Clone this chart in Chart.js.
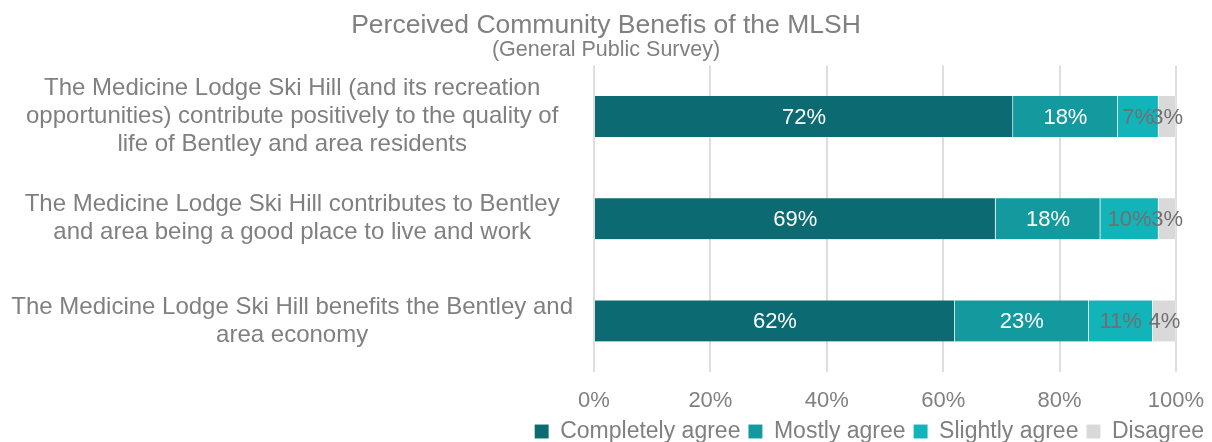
<!DOCTYPE html>
<html>
<head>
<meta charset="utf-8">
<script src="https://cdn.jsdelivr.net/npm/chart.js@4/dist/chart.umd.min.js"></script>
<style>
html,body{margin:0;padding:0;background:#fff;}
#wrap{width:1212px;height:442px;position:relative;}
</style>
</head>
<body>
<div id="wrap"><canvas id="c" width="1212" height="442"></canvas></div>
<script>
const categories = [
  ["The Medicine Lodge Ski Hill (and its recreation", "opportunities) contribute positively to the quality of", "life of Bentley and area residents"],
  ["The Medicine Lodge Ski Hill contributes to Bentley", "and area being a good place to live and work"],
  ["The Medicine Lodge Ski Hill benefits the Bentley and", "area economy"]
];
const completelyAgree = [72, 69, 62];
const mostlyAgree = [18, 18, 23];
const slightlyAgree = [7, 10, 11];
const disagree = [3, 3, 4];
const xTicks = [0, 20, 40, 60, 80, 100];

const FONT = "'Liberation Sans', Arial, sans-serif";
const GRAY = '#808080';

const barLabels = {
  id: 'barLabels',
  afterInit(chart) {
    if (chart.legend) {
      const origFit = chart.legend.fit;
      chart.legend.fit = function () {
        origFit.call(this);
        this.height = 30;
      };
    }
  },
  afterDatasetsDraw(chart) {
    const ctx = chart.ctx;
    ctx.save();
    ctx.font = '22px ' + FONT;
    ctx.textAlign = 'center';
    ctx.textBaseline = 'middle';
    chart.data.datasets.forEach((ds, di) => {
      const meta = chart.getDatasetMeta(di);
      meta.data.forEach((el, i) => {
        const v = ds.data[i];
        const p = el.getProps(['x', 'y', 'base'], true);
        ctx.fillStyle = ds.labelColor;
        ctx.fillText(v + '%', (p.x + p.base) / 2, p.y + 1);
      });
    });
    ctx.restore();
  }
};

new Chart(document.getElementById('c'), {
  type: 'bar',
  data: {
    labels: categories,
    datasets: [
      { label: 'Completely agree', data: completelyAgree, backgroundColor: '#0b6a72', labelColor: '#ffffff' },
      { label: 'Mostly agree', data: mostlyAgree, backgroundColor: '#129a9f', labelColor: '#ffffff' },
      { label: 'Slightly agree', data: slightlyAgree, backgroundColor: '#12b3b9', labelColor: '#707070' },
      { label: 'Disagree', data: disagree, backgroundColor: '#d9d9d9', labelColor: '#707070' }
    ].map(d => Object.assign(d, { barThickness: 41, borderWidth: { right: 1 }, borderColor: 'rgba(255,255,255,0.35)' }))
  },
  options: {
    indexAxis: 'y',
    responsive: false,
    animation: false,
    devicePixelRatio: 1,
    layout: { padding: 0 },
    scales: {
      x: {
        stacked: true,
        min: 0, max: 100,
        afterBuildTicks(scale) { scale.ticks = xTicks.map(v => ({ value: v })); },
        afterFit(scale) { scale.paddingRight = 36; scale.height = 40; },
        ticks: {
          callback: v => v + '%',
          color: GRAY,
          font: { family: FONT, size: 22, lineHeight: 1.0 },
          padding: 18
        },
        grid: { color: '#dedede', lineWidth: 2, drawTicks: false },
        border: { display: false }
      },
      y: {
        stacked: true,
        afterFit(scale) { scale.width = 594; },
        ticks: {
          color: GRAY,
          crossAlign: 'center',
          padding: 21,
          font: { family: FONT, size: 24, lineHeight: 1.167 }
        },
        grid: { display: false, drawTicks: false },
        border: { display: false }
      }
    },
    plugins: {
      title: {
        display: true,
        text: 'Perceived Community Benefis of the MLSH',
        color: GRAY,
        font: { family: FONT, size: 26.5, weight: 'normal', lineHeight: 1.0 },
        padding: { top: 12.5, bottom: 0 }
      },
      subtitle: {
        display: true,
        text: '(General Public Survey)',
        color: GRAY,
        font: { family: FONT, size: 21.5, weight: 'normal', lineHeight: 1.0 },
        padding: { top: 0, bottom: 5 }
      },
      legend: {
        position: 'bottom',
        align: 'end',
        labels: {
          color: GRAY,
          boxWidth: 14,
          boxHeight: 14,
          padding: 8,
          font: { family: FONT, size: 23 }
        }
      },
      tooltip: { enabled: false }
    }
  },
  plugins: [barLabels]
});
</script>
</body>
</html>
